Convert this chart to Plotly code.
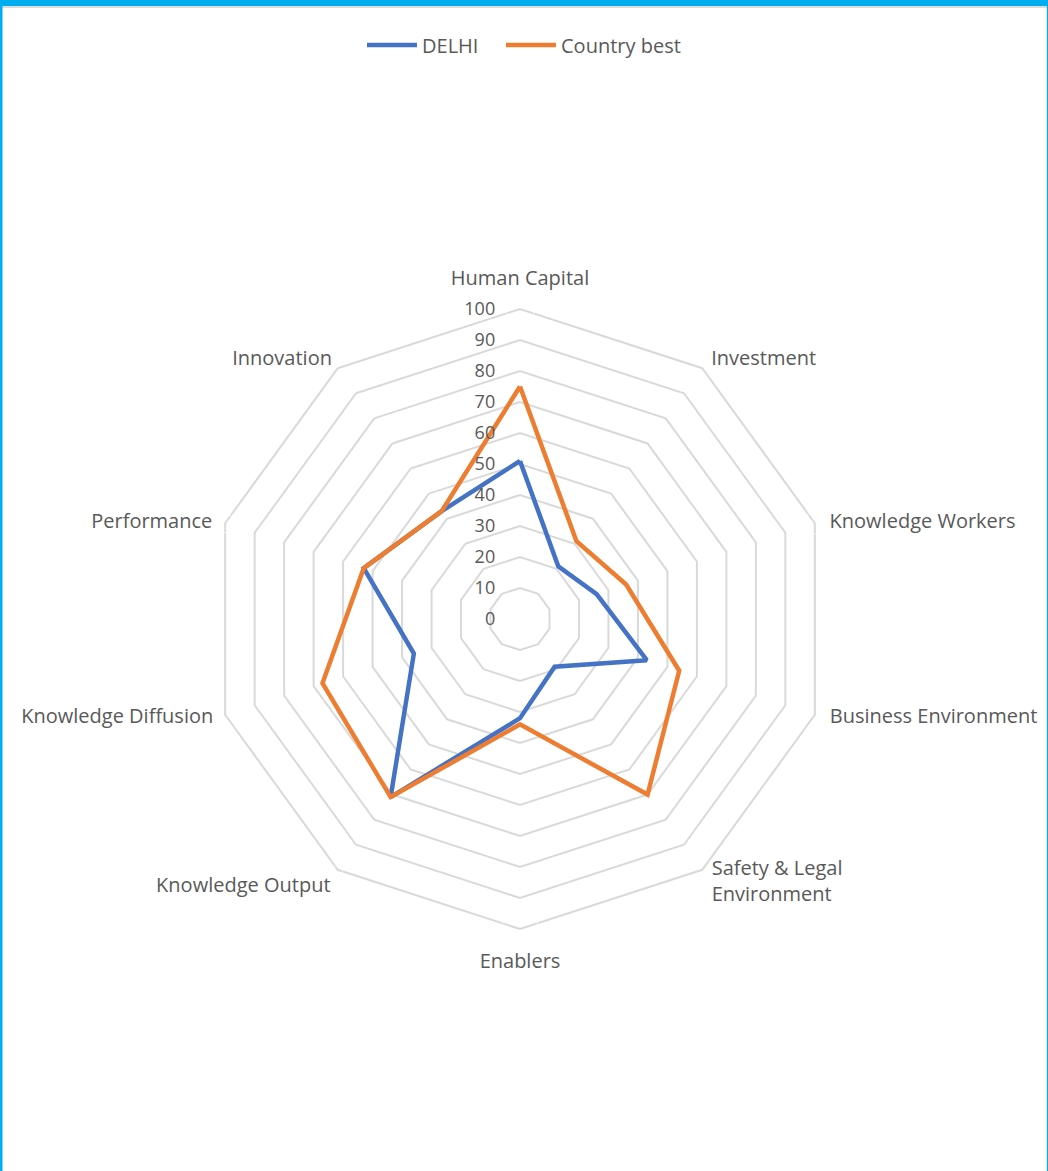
import plotly.graph_objects as go

# Pillar categories, clockwise from the top
categories = [
    "Human Capital",
    "Investment",
    "Knowledge Workers",
    "Business Environment",
    "Safety & Legal<br>Environment",
    "Enablers",
    "Knowledge Output",
    "Knowledge Diffusion",
    "Performance",
    "Innovation",
]

delhi = [51, 21, 26, 43, 19, 32, 71, 36, 53, 43]
country_best = [75, 31, 36, 54, 70, 34, 71, 67, 53, 43]

radial_ticks = [0, 10, 20, 30, 40, 50, 60, 70, 80, 90, 100]

# placement of each category label around the outer ring
label_pos = [
    "top center", "middle right", "middle right", "middle right", "middle right",
    "bottom center", "bottom left", "middle left", "middle left", "middle left",
]
# radial anchor of each label and invisible anchor size (gap between anchor and text)
label_r = [100, 103.2, 100, 103.2, 105.2, 100, 100, 103.2, 100, 103.2]
label_gap = [29, 3.4, 22, 7.2, 0, 37, 10, 2.4, 19, 0]

W, H = 1048, 1171
TEXT = "#595959"
FONT = "Open Sans"
BLUE, ORANGE = "#4472C4", "#ED7D31"

# chart centre (px from left/top) and outer radius of the 100 ring
cx, cy, R = 520, 619, 310
# label layer uses the same px-per-unit scale but reaches a bit further out
LABEL_MAX = 110
R2 = R * LABEL_MAX / 100


def closed(vals):
    return vals + vals[:1]


def domain(radius):
    return dict(x=[(cx - radius) / W, (cx + radius) / W],
                y=[(H - cy - radius) / H, (H - cy + radius) / H])


fig = go.Figure()
fig.add_trace(go.Scatterpolar(
    r=closed(delhi), theta=closed(categories), mode="lines", name="DELHI",
    line=dict(color=BLUE, width=4.5), legend="legend",
))
fig.add_trace(go.Scatterpolar(
    r=closed(country_best), theta=closed(categories), mode="lines", name="Country best",
    line=dict(color=ORANGE, width=4.5), legend="legend2",
))
# category labels just outside the 100 ring
fig.add_trace(go.Scatterpolar(
    r=label_r, theta=categories, subplot="polar2",
    mode="markers+text", text=categories, textposition=label_pos,
    textfont=dict(family=FONT, size=20, color=TEXT),
    marker=dict(size=label_gap, color="rgba(0,0,0,0)"),
    cliponaxis=False, hoverinfo="skip", showlegend=False,
))

legend_common = dict(
    orientation="h", y=1 - 45 / H, yanchor="middle", xanchor="left",
    font=dict(size=20, color=TEXT), itemwidth=50, bgcolor="rgba(0,0,0,0)",
)

fig.update_layout(
    width=W, height=H,
    margin=dict(l=0, r=0, t=0, b=0),
    paper_bgcolor="white",
    font=dict(family=FONT, color=TEXT),
    showlegend=True,
    legend=dict(legend_common, x=362 / W),
    legend2=dict(legend_common, x=501 / W),
    polar=dict(
        domain=domain(R),
        gridshape="linear",
        bgcolor="white",
        radialaxis=dict(
            range=[0, 100], tickvals=radial_ticks, angle=90, side="counterclockwise",
            showline=False, gridcolor="#D9D9D9", gridwidth=2,
            ticks="outside", ticklen=18, tickcolor="rgba(0,0,0,0)",
            tickfont=dict(size=18, color=TEXT), tickangle=90,
        ),
        angularaxis=dict(
            categoryorder="array", categoryarray=categories,
            rotation=90, direction="clockwise",
            showgrid=False, showline=True, linecolor="#D9D9D9", linewidth=2,
            ticks="", showticklabels=False,
        ),
    ),
    polar2=dict(
        domain=domain(R2),
        bgcolor="rgba(0,0,0,0)",
        radialaxis=dict(range=[0, LABEL_MAX], visible=False),
        angularaxis=dict(
            categoryorder="array", categoryarray=categories,
            rotation=90, direction="clockwise", visible=False,
        ),
    ),
    shapes=[
        # frame: blue top bar, thin shadow, left and right edges
        dict(type="rect", xref="paper", yref="paper", x0=0, x1=1, y0=1 - 6 / H, y1=1,
             fillcolor="#00AEEF", line=dict(width=0), layer="above"),
        dict(type="rect", xref="paper", yref="paper", x0=0, x1=1, y0=1 - 8 / H, y1=1 - 6 / H,
             fillcolor="#DDDDDD", line=dict(width=0), layer="above"),
        dict(type="rect", xref="paper", yref="paper", x0=0, x1=2.5 / W, y0=0, y1=1,
             fillcolor="#00AEEF", line=dict(width=0), layer="above"),
        dict(type="rect", xref="paper", yref="paper", x0=1 - 1.2 / W, x1=1, y0=0, y1=1,
             fillcolor="#00AEEF", line=dict(width=0), layer="above"),
    ],
)

fig.write_html("out.html")
